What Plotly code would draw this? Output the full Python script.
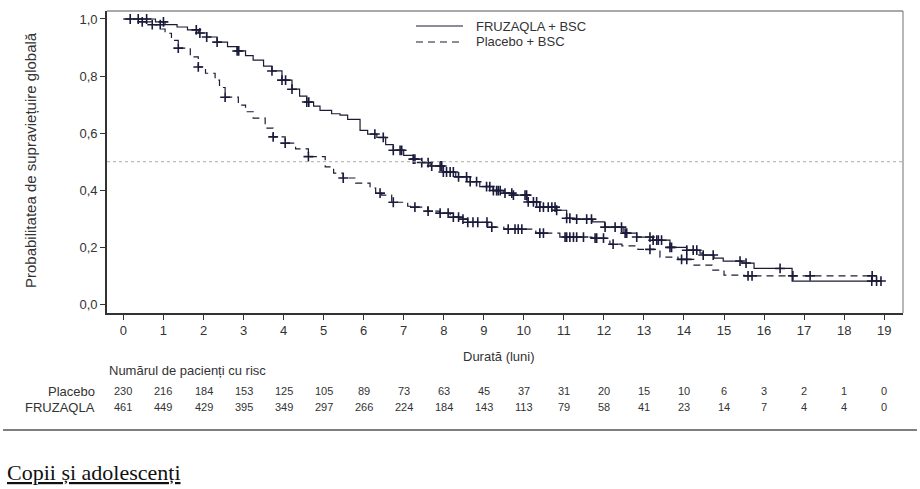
import numpy as np
import plotly.graph_objects as go

# ---------------- data ----------------
fru_times = [0, 0.8, 1.04, 1.34, 1.6, 1.87, 2.08, 2.34, 2.6, 2.84, 3.05, 3.24, 3.5, 3.71, 3.96,
             4.21, 4.4, 4.58, 4.75, 4.91, 5.2, 5.41, 5.6, 5.91, 6.1, 6.33, 6.55, 6.74, 7.0, 7.24,
             7.45, 7.66, 7.99, 8.3, 8.58, 8.9, 9.23, 9.5, 9.73, 10.08, 10.4, 10.82, 11.07, 11.32,
             11.72, 12.02, 12.48, 12.82, 13.22, 13.65, 14.07, 14.4, 14.48, 14.75, 14.98, 15.45,
             15.75, 16.7]
fru_surv = [1.0, 0.99, 0.98, 0.972, 0.962, 0.951, 0.937, 0.919, 0.903, 0.888, 0.872, 0.856, 0.835,
            0.818, 0.786, 0.754, 0.73, 0.709, 0.695, 0.68, 0.668, 0.663, 0.648, 0.61, 0.597, 0.585,
            0.56, 0.54, 0.522, 0.509, 0.497, 0.485, 0.464, 0.447, 0.43, 0.413, 0.399, 0.39, 0.383,
            0.359, 0.341, 0.33, 0.302, 0.299, 0.289, 0.271, 0.25, 0.236, 0.225, 0.2, 0.19, 0.18,
            0.173, 0.162, 0.152, 0.145, 0.126, 0.082]
fru_end = 18.92
fru_censor = [0.17, 0.37, 0.58, 1.0, 1.82, 1.91, 2.08, 2.34, 2.84, 2.88, 3.71, 3.96, 4.05, 4.21,
              4.58, 4.63, 6.28, 6.49, 6.74, 6.91, 6.95, 7.24, 7.28, 7.45, 7.61, 7.7, 7.91, 7.95,
              7.99, 8.07, 8.16, 8.24, 8.37, 8.57, 8.66, 8.82, 9.07, 9.15, 9.24, 9.32, 9.36, 9.41,
              9.53, 9.7, 9.74, 10.03, 10.07, 10.11, 10.24, 10.32, 10.4, 10.49, 10.61, 10.7, 10.78,
              10.82, 11.07, 11.15, 11.32, 11.57, 11.69, 12.03, 12.28, 12.44, 12.53, 12.57, 12.82,
              13.15, 13.23, 13.32, 13.36, 13.44, 13.65, 13.69, 14.07, 14.23, 14.32, 14.48, 14.73,
              15.4, 15.55, 16.4, 18.69, 18.81, 18.92]

pla_times = [0, 0.45, 0.7, 0.95, 1.04, 1.2, 1.37, 1.67, 1.87, 2.05, 2.29, 2.4, 2.54, 2.87, 3.05,
             3.24, 3.54, 3.74, 4.04, 4.3, 4.62, 5.04, 5.25, 5.49, 5.8, 6.16, 6.3, 6.45, 6.7, 7.1,
             7.28, 7.6, 7.9, 8.16, 8.4, 8.6, 9.1, 9.5, 10.3, 10.9, 11.7, 12.15, 12.45, 12.85, 13.4,
             13.85, 14.25, 14.7, 15.0, 15.5]
pla_surv = [1.0, 0.99, 0.98, 0.965, 0.95, 0.925, 0.898, 0.867, 0.832, 0.81, 0.786, 0.76, 0.726,
            0.698, 0.675, 0.653, 0.618, 0.587, 0.565, 0.545, 0.518, 0.482, 0.46, 0.443, 0.425,
            0.408, 0.39, 0.383, 0.358, 0.344, 0.341, 0.327, 0.32, 0.306, 0.299, 0.288, 0.271,
            0.264, 0.25, 0.236, 0.232, 0.211, 0.205, 0.193, 0.166, 0.158, 0.138, 0.12, 0.103, 0.1]
pla_end = 18.77
pla_censor = [0.47, 0.72, 0.92, 1.37, 1.87, 2.54, 3.74, 4.04, 4.62, 5.49, 6.41, 6.74, 7.28, 7.61,
              7.91, 8.11, 8.24, 8.37, 8.48, 8.6, 8.73, 8.85, 9.08, 9.2, 9.61, 9.78, 9.86, 9.95,
              10.4, 10.49, 11.03, 11.07, 11.15, 11.24, 11.32, 11.49, 11.78, 11.82, 11.99, 12.23,
              13.15, 13.94, 14.07, 15.6, 15.7, 16.72, 17.15, 18.7]

x_ticks = list(range(0, 20))
y_ticks = [0.0, 0.2, 0.4, 0.6, 0.8, 1.0]
y_tick_labels = ["0,0", "0,2", "0,4", "0,6", "0,8", "1,0"]

risk_placebo = [230, 216, 184, 153, 125, 105, 89, 73, 63, 45, 37, 31, 20, 15, 10, 6, 3, 2, 1, 0]
risk_fru = [461, 449, 429, 395, 349, 297, 266, 224, 184, 143, 113, 79, 58, 41, 23, 14, 7, 4, 4, 0]

# ---------------- figure ----------------
W, H = 920, 489
L, R, T, B = 107, 17, 11, 176
PW, PH = W - L - R, H - T - B


def px(x):
    return (x - L) / PW


def py(y):
    return (H - B - y) / PH


LINE_COL = "#1c1c34"
MARK_COL = "#1a1a3a"
TXT = "#333333"


def surv_at(times, surv, t):
    idx = np.searchsorted(np.array(times), np.array(t), side="right") - 1
    return np.array(surv)[idx]


fig = go.Figure()

fig.add_trace(go.Scatter(x=fru_times + [fru_end], y=fru_surv + [fru_surv[-1]], mode="lines",
                         line=dict(color=LINE_COL, width=1.2, shape="hv"), showlegend=False,
                         hoverinfo="skip"))
fig.add_trace(go.Scatter(x=pla_times + [pla_end], y=pla_surv + [pla_surv[-1]], mode="lines",
                         line=dict(color=LINE_COL, width=1.2, shape="hv", dash="7px,5px"),
                         showlegend=False, hoverinfo="skip"))
fig.add_trace(go.Scatter(x=fru_censor, y=surv_at(fru_times, fru_surv, fru_censor), mode="markers",
                         marker=dict(symbol="cross-thin", size=7,
                                     line=dict(color=MARK_COL, width=1.6)),
                         showlegend=False, hoverinfo="skip"))
fig.add_trace(go.Scatter(x=pla_censor, y=surv_at(pla_times, pla_surv, pla_censor), mode="markers",
                         marker=dict(symbol="cross-thin", size=7,
                                     line=dict(color=MARK_COL, width=1.6)),
                         showlegend=False, hoverinfo="skip"))

font = "Liberation Sans, Arial, sans-serif"

fig.update_layout(
    width=W, height=H, margin=dict(l=L, r=R, t=T, b=B),
    paper_bgcolor="white", plot_bgcolor="white",
    font=dict(family=font, size=13, color=TXT),
    xaxis=dict(range=[-0.41, 19.47], tickvals=x_ticks, ticktext=[str(v) for v in x_ticks],
               ticks="outside", ticklen=5, tickcolor="#333", tickwidth=1.2,
               showline=True, linecolor="#333", linewidth=1.6, showgrid=False, zeroline=False,
               tickfont=dict(size=13, color=TXT)),
    yaxis=dict(range=[-0.03, 1.028], tickvals=y_ticks, ticktext=y_tick_labels,
               ticks="outside", ticklen=5, tickcolor="#333", tickwidth=1.2,
               showline=True, linecolor="#333", linewidth=1.6, showgrid=False, zeroline=False,
               tickfont=dict(size=13, color=TXT)),
)

shapes = []
# frame top/right
shapes.append(dict(type="line", xref="paper", yref="paper", x0=0, x1=1, y0=1, y1=1,
                   line=dict(color="#555", width=1.2)))
shapes.append(dict(type="line", xref="paper", yref="paper", x0=1, x1=1, y0=0, y1=1,
                   line=dict(color="#888", width=1.2)))
# median reference line
shapes.append(dict(type="line", xref="paper", yref="y", x0=0, x1=1, y0=0.5, y1=0.5,
                   line=dict(color="#aaaaaa", width=1, dash="dot")))
# legend samples
shapes.append(dict(type="line", xref="paper", yref="paper", x0=px(416), x1=px(463),
                   y0=py(26), y1=py(26), line=dict(color=LINE_COL, width=1.2)))
shapes.append(dict(type="line", xref="paper", yref="paper", x0=px(416), x1=px(463),
                   y0=py(42), y1=py(42), line=dict(color=LINE_COL, width=1.2, dash="7px,5px")))
# separator rule
shapes.append(dict(type="line", xref="paper", yref="paper", x0=px(3), x1=px(917),
                   y0=py(430), y1=py(430), line=dict(color="#555", width=1.5)))
fig.update_layout(shapes=shapes)

ann = []
ann.append(dict(text="FRUZAQLA + BSC", x=px(474), y=py(26), xref="paper", yref="paper",
                xanchor="left", yanchor="middle", showarrow=False, font=dict(size=13, color=TXT)))
ann.append(dict(text="Placebo + BSC", x=px(474), y=py(42), xref="paper", yref="paper",
                xanchor="left", yanchor="middle", showarrow=False, font=dict(size=13, color=TXT)))
ann.append(dict(text="Probabilitatea de supraviețuire globală", x=px(30), y=py(160),
                xref="paper", yref="paper", textangle=-90, xanchor="center", yanchor="middle",
                showarrow=False, font=dict(size=15, color=TXT)))
ann.append(dict(text="Durată (luni)", x=px(499), y=py(356), xref="paper", yref="paper",
                xanchor="center", yanchor="middle", showarrow=False, font=dict(size=13, color=TXT)))
ann.append(dict(text="Numărul de pacienți cu risc", x=px(107), y=py(370), xref="paper",
                yref="paper", xanchor="left", yanchor="middle", showarrow=False,
                font=dict(size=13, color=TXT)))
ann.append(dict(text="Placebo", x=px(97), y=py(391), xref="paper", yref="paper",
                xanchor="right", yanchor="middle", showarrow=False, font=dict(size=13, color=TXT)))
ann.append(dict(text="FRUZAQLA", x=px(97), y=py(407), xref="paper", yref="paper",
                xanchor="right", yanchor="middle", showarrow=False, font=dict(size=13, color=TXT)))
for xv, a, b in zip(x_ticks, risk_placebo, risk_fru):
    ann.append(dict(text=str(a), x=xv, y=py(391), xref="x", yref="paper", xanchor="center",
                    yanchor="middle", showarrow=False, font=dict(size=11, color=TXT)))
    ann.append(dict(text=str(b), x=xv, y=py(407), xref="x", yref="paper", xanchor="center",
                    yanchor="middle", showarrow=False, font=dict(size=11, color=TXT)))
ann.append(dict(text="<u>Copii și adolescenți</u>", x=px(5), y=py(472), xref="paper",
                yref="paper", xanchor="left", yanchor="middle", showarrow=False,
                font=dict(family="Liberation Serif, Times New Roman, serif", size=22,
                          color="#111")))
fig.update_layout(annotations=ann)

fig.write_html("out.html")
